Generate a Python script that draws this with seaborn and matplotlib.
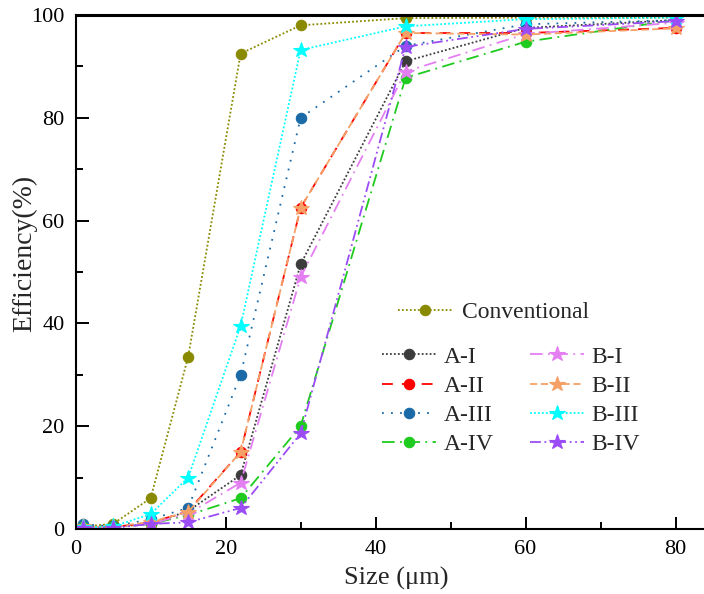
import matplotlib
matplotlib.use("Agg")
import matplotlib.pyplot as plt
import seaborn as sns
import numpy as np
import pandas as pd
from matplotlib.ticker import MultipleLocator

# particle sizes (µm)
size = [1, 5, 10, 15, 22, 30, 44, 60, 80]

# separation efficiency (%) per configuration
conventional = [0.5, 1.0, 6.0, 33.5, 92.5, 98.0, 99.4, 99.5, 99.5]
a_i = [0.5, 0.4, 1.0, 3.5, 10.5, 51.5, 91.0, 97.5, 99.0]
a_ii = [0.5, 0.4, 1.2, 3.5, 15.0, 62.5, 96.5, 96.5, 97.5]
a_iii = [0.9, 0.5, 1.9, 4.1, 30.0, 80.0, 94.0, 98.2, 99.0]
a_iv = [0.3, 0.3, 1.0, 2.7, 6.0, 20.0, 87.8, 94.8, 99.0]
b_i = [0.3, 0.3, 1.0, 3.0, 9.0, 49.0, 89.0, 96.3, 98.5]
b_ii = [0.5, 0.4, 1.4, 3.3, 15.0, 62.5, 96.5, 96.2, 97.4]
b_iii = [0.3, 0.5, 2.9, 10.0, 39.5, 93.2, 97.8, 99.2, 99.5]
b_iv = [0.2, 0.2, 1.0, 1.3, 4.1, 18.6, 93.8, 97.3, 98.8]

labels = ["Conventional", "A-I", "A-II", "A-III", "A-IV", "B-I", "B-II", "B-III", "B-IV"]
series = [conventional, a_i, a_ii, a_iii, a_iv, b_i, b_ii, b_iii, b_iv]
colors = ["#8a8a00", "#3c3c3c", "#ff0000", "#1b6aa8", "#1ecb1e",
          "#e47ff2", "#f5a066", "#00ffff", "#9b4cf5"]
markers = ["o", "o", "o", "o", "o", "*", "*", "*", "*"]
styles = [(0, (1, 1.2)), (0, (1, 1.2)), (0, (6, 5)), (0, (1, 4)), (0, (7, 3, 1, 3)),
          (0, (7, 3, 1, 3)), (0, (4, 2)), (0, (1, 1.2)), (0, (6, 2, 1, 2, 1, 2))]

sns.set_theme(style="white")
plt.rcParams["font.family"] = ["Liberation Serif", "DejaVu Serif"]

fig = plt.figure(figsize=(7.04, 5.94), dpi=100)
ax = fig.add_axes([0.1075, 0.1094, 1.0 - 0.1075, 0.9747 - 0.1094])

handles = {}
for lab, y, c, m, ls in zip(labels, series, colors, markers, styles):
    df = pd.DataFrame({"size": size, "eff": y})
    sns.lineplot(data=df, x="size", y="eff", ax=ax, color=c, marker=m,
                 linestyle=ls, linewidth=1.3,
                 markersize=7.5 if m == "o" else 11.5,
                 markeredgecolor=c, markeredgewidth=0.8,
                 legend=False)
    handles[lab] = ax.get_lines()[-1]

ax.set_xlim(0, 83.8)
ax.set_ylim(0, 100)
ax.xaxis.set_major_locator(MultipleLocator(20))
ax.xaxis.set_minor_locator(MultipleLocator(10))
ax.yaxis.set_major_locator(MultipleLocator(20))
ax.yaxis.set_minor_locator(MultipleLocator(10))
ax.tick_params(which="both", direction="in", top=False, right=False,
               bottom=True, left=True, colors="black", labelsize=16, pad=8)
ax.tick_params(which="major", length=9, width=1.4)
ax.tick_params(which="minor", length=5, width=1.4)
for side in ["left", "bottom", "top"]:
    ax.spines[side].set_color("black")
    ax.spines[side].set_linewidth(1.5)
ax.spines["top"].set_linewidth(2.2)
ax.spines["right"].set_visible(False)
ax.grid(False)

ax.set_xlabel("Size (μm)", fontsize=19)
ax.set_ylabel("Efficiency(%)", fontsize=20)
ax.xaxis.set_label_coords(0.51, -0.074)
ax.yaxis.set_label_coords(-0.062, 0.537)

leg1 = ax.legend([handles["Conventional"]], ["Conventional"], frameon=False,
                 loc="center left", bbox_to_anchor=(398 / 704, 1 - 312 / 594),
                 bbox_transform=fig.transFigure, fontsize=17, borderpad=0,
                 borderaxespad=0, handlelength=2.3, handletextpad=0.4)
ax.add_artist(leg1)

order = ["A-I", "A-II", "A-III", "A-IV", "B-I", "B-II", "B-III", "B-IV"]
ax.legend([handles[k] for k in order], order, ncol=2, frameon=False,
          loc="upper left", bbox_to_anchor=(382 / 704, 1 - 346 / 594),
          bbox_transform=fig.transFigure, fontsize=17, borderpad=0,
          borderaxespad=0, handlelength=2.3, handletextpad=0.3,
          columnspacing=1.55, labelspacing=0.33)

fig.savefig("out.png", dpi=100)
